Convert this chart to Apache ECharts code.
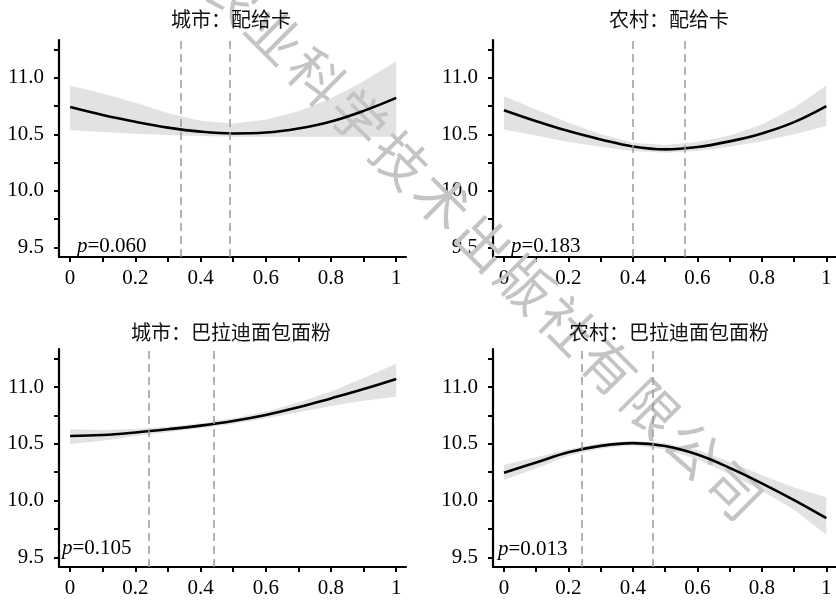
<!DOCTYPE html>
<html>
<head>
<meta charset="utf-8">
<script src="https://cdn.jsdelivr.net/npm/echarts@6/dist/echarts.min.js"></script>
<style>html,body{margin:0;padding:0;background:#fff}#c{width:836px;height:600px}</style>
</head>
<body>
<div id="c"></div>
<script>
// ---- data ----
const xValues = [0, 0.1, 0.2, 0.3, 0.4, 0.5, 0.6, 0.7, 0.8, 0.9, 1];
const xTickValues = [0, 0.1, 0.2, 0.3, 0.4, 0.5, 0.6, 0.7, 0.8, 0.9, 1];
const xLabelValues = [0, 0.2, 0.4, 0.6, 0.8, 1];
const yTickValues = [9.5, 9.75, 10, 10.25, 10.5, 10.75, 11, 11.25];
const yLabelValues = [9.5, 10, 10.5, 11];

const titles = ['城市：配给卡', '农村：配给卡', '城市：巴拉迪面包面粉', '农村：巴拉迪面包面粉'];
const pValues = ['0.060', '0.183', '0.105', '0.013'];

// 城市：配给卡
const mean1  = [10.742, 10.672, 10.612, 10.560, 10.524, 10.508, 10.516, 10.552, 10.614, 10.708, 10.823];
const upper1 = [10.932, 10.862, 10.779, 10.690, 10.620, 10.597, 10.630, 10.705, 10.818, 10.970, 11.147];
const lower1 = [10.538, 10.520, 10.506, 10.494, 10.485, 10.480, 10.479, 10.479, 10.479, 10.479, 10.479];
const cuts1  = [0.34, 0.495];

// 农村：配给卡
const mean2  = [10.714, 10.617, 10.529, 10.455, 10.392, 10.367, 10.388, 10.438, 10.508, 10.608, 10.750];
const upper2 = [10.838, 10.720, 10.603, 10.500, 10.426, 10.405, 10.432, 10.490, 10.588, 10.735, 10.932];
const lower2 = [10.544, 10.490, 10.432, 10.391, 10.352, 10.338, 10.352, 10.391, 10.440, 10.500, 10.573];
const cuts2  = [0.404, 0.555];

// 城市：巴拉迪面包面粉
const mean3  = [10.569, 10.578, 10.600, 10.628, 10.660, 10.701, 10.754, 10.821, 10.900, 10.982, 11.071];
const upper3 = [10.628, 10.622, 10.630, 10.651, 10.681, 10.725, 10.784, 10.864, 10.961, 11.080, 11.206];
const lower3 = [10.498, 10.527, 10.569, 10.601, 10.637, 10.675, 10.722, 10.779, 10.834, 10.880, 10.915];
const cuts3  = [0.243, 0.437];

// 农村：巴拉迪面包面粉
const mean4  = [10.246, 10.335, 10.425, 10.482, 10.506, 10.480, 10.405, 10.288, 10.152, 10.004, 9.845];
const upper4 = [10.314, 10.382, 10.453, 10.506, 10.524, 10.506, 10.447, 10.343, 10.225, 10.115, 10.030];
const lower4 = [10.181, 10.285, 10.394, 10.458, 10.485, 10.453, 10.364, 10.234, 10.086, 9.920, 9.700];
const cuts4  = [0.245, 0.458];

const watermarkChars = ['农','业','科','学','技','术','出','版','社','有','限','公','司'];

// ---- chart ----
const panels = [
  {mean: mean1, upper: upper1, lower: lower1, cuts: cuts1},
  {mean: mean2, upper: upper2, lower: lower2, cuts: cuts2},
  {mean: mean3, upper: upper3, lower: lower3, cuts: cuts3},
  {mean: mean4, upper: upper4, lower: lower4, cuts: cuts4}
];
const gridBoxes = [
  {left: 59, top: 40, width: 347, height: 217},
  {left: 493, top: 40, width: 347, height: 217},
  {left: 59, top: 349, width: 347, height: 218},
  {left: 493, top: 349, width: 347, height: 218}
];
const serif = 'Liberation Serif';
const grid = [], xAxis = [], yAxis = [], series = [];

panels.forEach(function (p, i) {
  grid.push(Object.assign({containLabel: false}, gridBoxes[i]));
  xAxis.push({
    type: 'value', gridIndex: i, min: -0.034, max: 1.03,
    axisLine: {show: true, onZero: false, lineStyle: {color: '#000', width: 2.2}},
    axisTick: {show: true, customValues: xTickValues, length: 5, lineStyle: {color: '#000', width: 2}},
    axisLabel: {
      show: true, customValues: xLabelValues, margin: 11,
      fontFamily: serif, fontSize: 21, color: '#000',
      formatter: function (v) { return (v === 0 || v === 1) ? String(v) : v.toFixed(1); }
    },
    splitLine: {show: false}
  });
  yAxis.push({
    type: 'value', gridIndex: i, min: 9.415, max: 11.335,
    axisLine: {show: true, onZero: false, lineStyle: {color: '#000', width: 2.2}},
    axisTick: {show: true, customValues: yTickValues, length: 5, lineStyle: {color: '#000', width: 2}},
    axisLabel: {
      show: true, customValues: yLabelValues, margin: 15,
      fontFamily: serif, fontSize: 21, color: '#000',
      formatter: function (v) { return v.toFixed(1); }
    },
    splitLine: {show: false}
  });
  const bandData = xValues.map(function (x, k) { return [x, p.lower[k], p.upper[k]]; });
  series.push({
    type: 'custom', xAxisIndex: i, yAxisIndex: i, z: 1, silent: true,
    data: bandData,
    encode: {x: 0, y: [1, 2]},
    renderItem: function (params, api) {
      if (params.dataIndex !== 0) return null;
      const pts = [];
      for (let k = 0; k < bandData.length; k++) pts.push(api.coord([bandData[k][0], bandData[k][2]]));
      for (let k = bandData.length - 1; k >= 0; k--) pts.push(api.coord([bandData[k][0], bandData[k][1]]));
      return {type: 'polygon', shape: {points: pts}, style: {fill: '#e2e2e2', stroke: null}};
    }
  });
  series.push({
    type: 'line', xAxisIndex: i, yAxisIndex: i, z: 3,
    data: xValues.map(function (x, k) { return [x, p.mean[k]]; }),
    smooth: 0.4, showSymbol: false, silent: true,
    lineStyle: {color: '#000', width: 2.6},
    markLine: {
      silent: true, symbol: ['none', 'none'], label: {show: false},
      lineStyle: {type: [8, 5], color: '#9a9a9a', width: 1.5},
      data: p.cuts.map(function (v) { return {xAxis: v}; })
    }
  });
});

const graphic = [];
const titlePos = [[231, 19], [669, 19], [231, 332], [669, 332]];
titles.forEach(function (t, i) {
  graphic.push({
    type: 'text', x: titlePos[i][0], y: titlePos[i][1], z: 10,
    style: {text: t, fontFamily: 'Noto Sans CJK SC', fontSize: 20, fill: '#111', align: 'center', verticalAlign: 'middle'}
  });
});
const pPos = [[77, 246], [511, 246], [62, 548], [498, 549]];
pValues.forEach(function (v, i) {
  graphic.push({
    type: 'text', x: pPos[i][0], y: pPos[i][1], z: 10,
    style: {
      text: '{i|p}{n|=' + v + '}', align: 'left', verticalAlign: 'middle',
      rich: {
        i: {fontFamily: serif, fontSize: 21, fontStyle: 'italic', fill: '#000'},
        n: {fontFamily: serif, fontSize: 21, fill: '#000'}
      }
    }
  });
});
watermarkChars.forEach(function (ch, k) {
  graphic.push({
    type: 'text', x: 233 + k * 41.8, y: -6 + k * 41.4, rotation: -Math.PI / 4, z: 2, silent: true,
    style: {text: ch, fontFamily: 'Noto Sans CJK SC', fontSize: 54, fill: '#c4c4c4', align: 'center', verticalAlign: 'middle'}
  });
});

const chart = echarts.init(document.getElementById('c'), null, {renderer: 'canvas'});
chart.setOption({
  animation: false,
  backgroundColor: '#fff',
  grid: grid, xAxis: xAxis, yAxis: yAxis, series: series, graphic: graphic
});
</script>
</body>
</html>
